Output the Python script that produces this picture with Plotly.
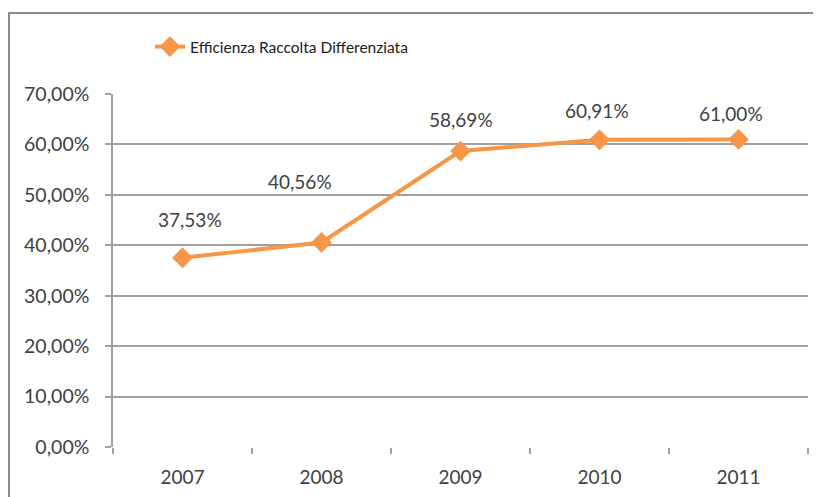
import plotly.graph_objects as go

years = ["2007", "2008", "2009", "2010", "2011"]
efficienza = [0.3753, 0.4056, 0.5869, 0.6091, 0.6100]
label_texts = ["37,53%", "40,56%", "58,69%", "60,91%", "61,00%"]
series_name = "Efficienza Raccolta Differenziata"

# label offsets in pixels (style only)
label_dx = [7, -22, 0, -3, -8]
label_dy = [38, 61, 32, 29, 26]

ORANGE = "#F79646"
GRID = "#a0a0a0"
TEXT = "#404040"
FONT = "Lato"

fig = go.Figure()
fig.add_trace(go.Scatter(
    x=years, y=efficienza, name=series_name,
    mode="lines+markers",
    line=dict(color=ORANGE, width=4),
    marker=dict(symbol="diamond", size=16, color=ORANGE),
    hoverinfo="skip",
))

for i, (v, t, dx, dy) in enumerate(zip(efficienza, label_texts, label_dx, label_dy)):
    fig.add_annotation(x=i, y=v, xref="x", yref="y", text=t, showarrow=False,
                       xshift=dx, yshift=dy,
                       font=dict(family=FONT, size=19, color=TEXT))

# page body has an 8px margin: figure pixel = reference pixel - 8
OFF = 8
W, H = 821 - OFF, 497 - OFF
L, R, T, B = 113 - OFF, 821 - 808, 94 - OFF, 497 - 447
pw, ph = W - L - R, H - T - B

def px_x(x):
    return (x - OFF - L) / pw

def px_y(y):
    return (H - B - (y - OFF)) / ph

fig.add_shape(type="rect", xref="paper", yref="paper",
              x0=px_x(9), x1=px_x(840), y0=px_y(520), y1=px_y(13),
              line=dict(color="#8c8c8c", width=2), fillcolor="rgba(0,0,0,0)",
              layer="below")

fig.update_layout(
    width=W, height=H,
    margin=dict(l=L, r=R, t=T, b=B, autoexpand=False),
    paper_bgcolor="white", plot_bgcolor="white",
    separators=",.",
    showlegend=True,
    legend=dict(orientation="h", x=px_x(150), xanchor="left",
                y=px_y(47), yanchor="middle",
                font=dict(family=FONT, size=15.5, color="#202020"),
                bgcolor="rgba(0,0,0,0)"),
    xaxis=dict(type="category", range=[-0.5, 4.5],
               showgrid=False, showline=False, zeroline=False,
               ticks="outside", tickson="boundaries", ticklen=6,
               tickcolor=GRID, tickwidth=1.5, ticklabelstandoff=17,
               tickfont=dict(family=FONT, size=19, color=TEXT)),
    yaxis=dict(range=[0, 0.7], dtick=0.1, tickformat=".2%",
               showgrid=True, gridcolor=GRID, gridwidth=1.5,
               zeroline=False,
               showline=True, linecolor=GRID, linewidth=1.5,
               ticks="outside", ticklen=6, tickcolor=GRID, tickwidth=1.5,
               ticklabelstandoff=12,
               tickfont=dict(family=FONT, size=19.5, color=TEXT)),
)

fig.write_html("out.html")
